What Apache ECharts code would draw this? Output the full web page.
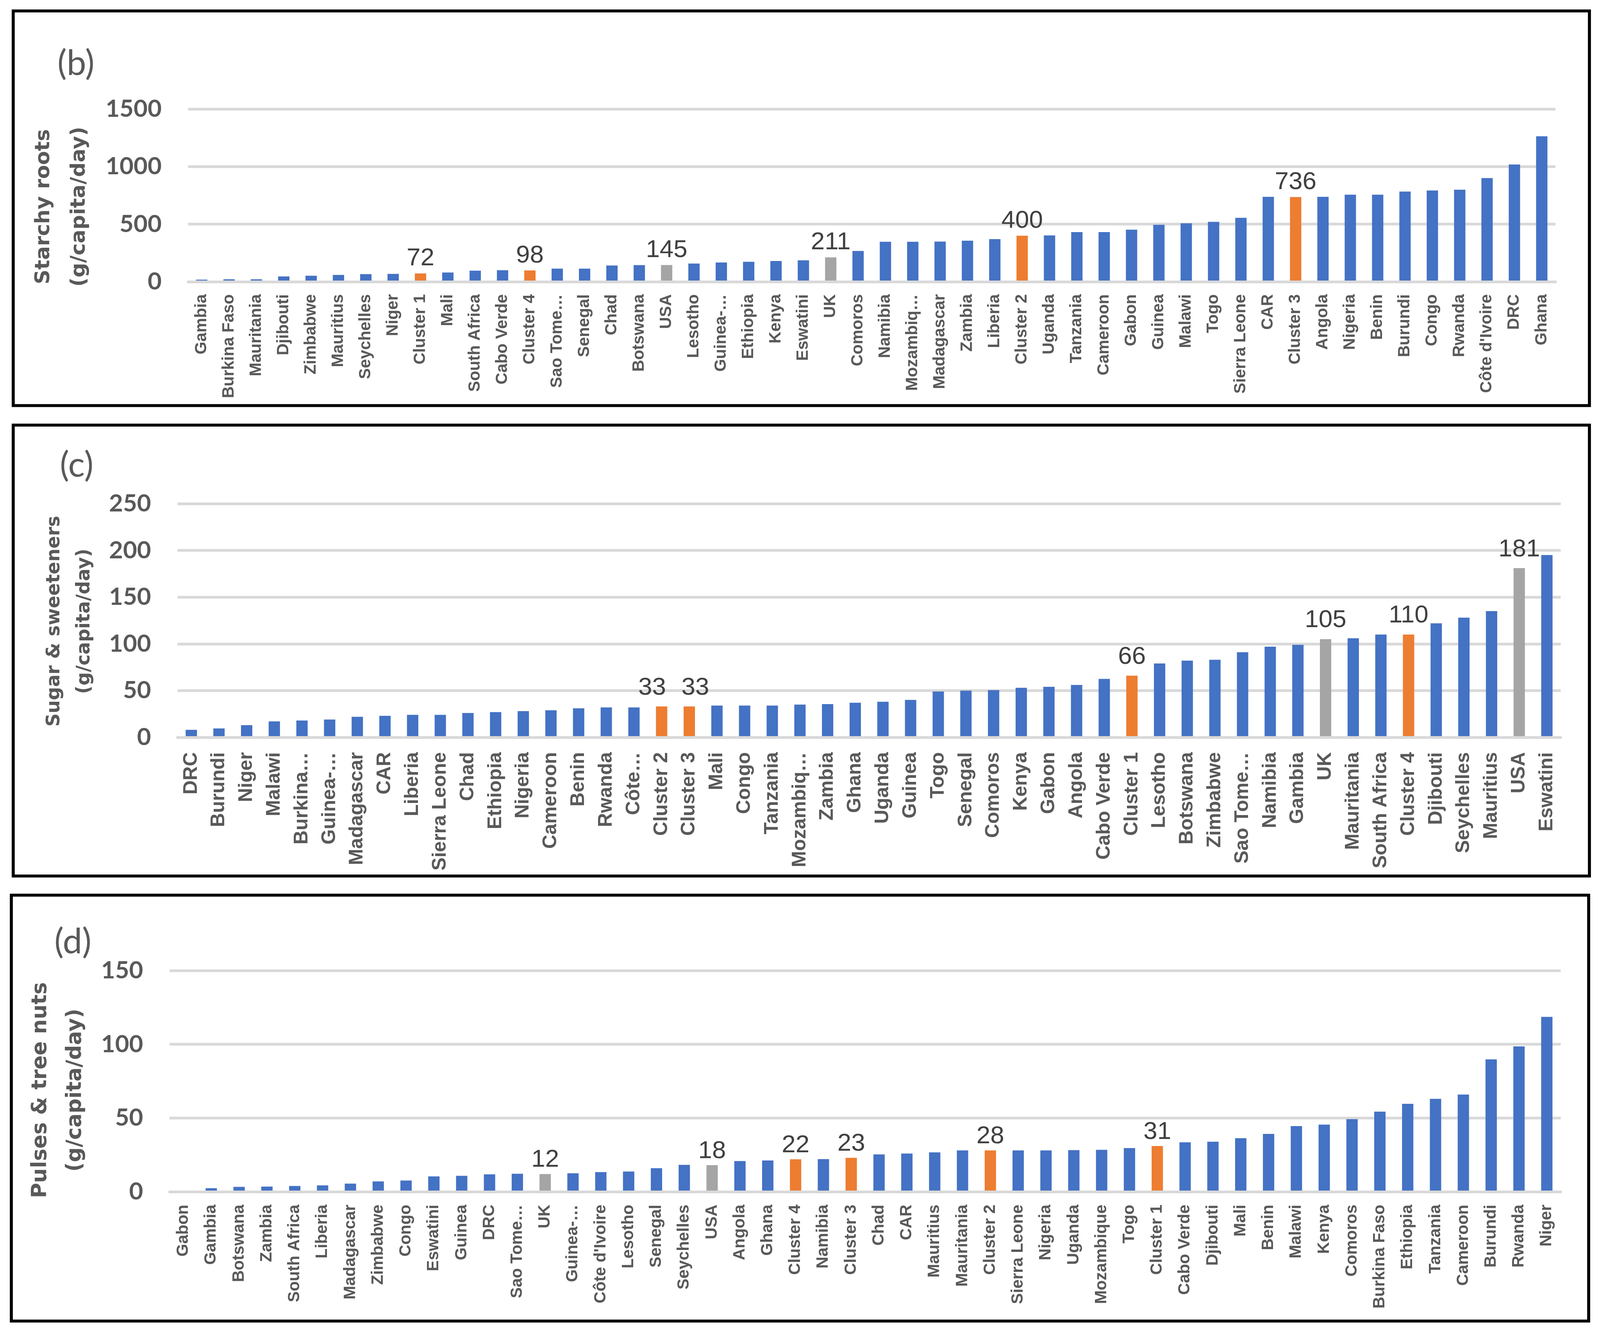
<!DOCTYPE html>
<html>
<head>
<meta charset="utf-8">
<script src="https://cdn.jsdelivr.net/npm/echarts@6/dist/echarts.min.js"></script>
<style>
html,body{margin:0;padding:0;background:#fff;overflow:hidden;}
#c{position:absolute;left:0;top:0;}
</style>
</head>
<body>
<div id="c"></div>
<script>
// ---- Panel (b): Starchy roots ----
const bCats = ["Gambia","Burkina Faso","Mauritania","Djibouti","Zimbabwe","Mauritius","Seychelles","Niger","Cluster 1","Mali","South Africa","Cabo Verde","Cluster 4","Sao Tome…","Senegal","Chad","Botswana","USA","Lesotho","Guinea-…","Ethiopia","Kenya","Eswatini","UK","Comoros","Namibia","Mozambiq…","Madagascar","Zambia","Liberia","Cluster 2","Uganda","Tanzania","Cameroon","Gabon","Guinea","Malawi","Togo","Sierra Leone","CAR","Cluster 3","Angola","Nigeria","Benin","Burundi","Congo","Rwanda","Côte d'Ivoire","DRC","Ghana"];
const bVals = [18,21,21,46,52,59,66,68,72,80,96,100,98,114,114,141,144,145,158,167,173,180,186,211,267,347,347,349,356,370,400,402,431,431,452,495,507,520,555,737,736,737,756,756,783,792,799,900,1018,1263];

// ---- Panel (c): Sugar & sweeteners ----
const cCats = ["DRC","Burundi","Niger","Malawi","Burkina…","Guinea-…","Madagascar","CAR","Liberia","Sierra Leone","Chad","Ethiopia","Nigeria","Cameroon","Benin","Rwanda","Côte…","Cluster 2","Cluster 3","Mali","Congo","Tanzania","Mozambiq…","Zambia","Ghana","Uganda","Guinea","Togo","Senegal","Comoros","Kenya","Gabon","Angola","Cabo Verde","Cluster 1","Lesotho","Botswana","Zimbabwe","Sao Tome…","Namibia","Gambia","UK","Mauritania","South Africa","Cluster 4","Djibouti","Seychelles","Mauritius","USA","Eswatini"];
const cVals = [8,9.5,13,17,18,19,22,23,24,24,26,27,28,29,31,32,32,33,33,34,34,34,35,35.5,37,38,40,49,50,50.5,53,54,56,62.5,66,79,82,83,91,97,99,105,106,110,110,122,128,135,181,195];

// ---- Panel (d): Pulses & tree nuts ----
const dCats = ["Gabon","Gambia","Botswana","Zambia","South Africa","Liberia","Madagascar","Zimbabwe","Congo","Eswatini","Guinea","DRC","Sao Tome…","UK","Guinea-…","Côte d'Ivoire","Lesotho","Senegal","Seychelles","USA","Angola","Ghana","Cluster 4","Namibia","Cluster 3","Chad","CAR","Mauritius","Mauritania","Cluster 2","Sierra Leone","Nigeria","Uganda","Mozambique","Togo","Cluster 1","Cabo Verde","Djibouti","Mali","Benin","Malawi","Kenya","Comoros","Burkina Faso","Ethiopia","Tanzania","Cameroon","Burundi","Rwanda","Niger"];
const dVals = [0,2.4,3.3,3.5,3.9,4.3,5.5,7,7.6,10.4,10.8,11.8,12.2,12,12.5,13.3,13.7,16,18.2,18,20.8,21.2,22,22.1,23,25.3,25.9,26.7,28,28,28,28,28.2,28.4,29.6,31,33.5,33.9,36.3,39.2,44.5,45.5,49.2,54.3,59.6,63,65.9,89.8,98.6,118.6];

const yTicks = {b:{max:1500, interval:500}, c:{max:250, interval:50}, d:{max:150, interval:50}};

const BLUE = '#4472C4', ORANGE = '#ED7D31', GRAY = '#A5A5A5';
const TXT = '#595959';

// Design space is the 4237 x 3409 reference; scale to the actual viewport.
const W0 = 4237, H0 = 3409;
const W = window.innerWidth || W0, H = window.innerHeight || H0;
const sx = W / W0, sy = H / H0, sf = Math.min(sx, sy);
const X = v => v * sx, Y = v => v * sy, F = v => v * sf;

const el = document.getElementById('c');
el.style.width = W + 'px';
el.style.height = H + 'px';

const isLabelled = name => name.indexOf('Cluster') === 0 || name === 'USA' || name === 'UK';

function buildData(cats, vals) {
  return vals.map((v, i) => {
    const name = cats[i];
    const isCluster = name.indexOf('Cluster') === 0;
    const isRef = (name === 'USA' || name === 'UK');
    return {
      value: v,
      itemStyle: { color: isCluster ? ORANGE : (isRef ? GRAY : BLUE) },
      label: { show: isCluster || isRef }
    };
  });
}

const grids = [
  { left: X(498), right: X(118), top: Y(279), height: Y(442) },
  { left: X(470), right: X(104), top: Y(1289), height: Y(598) },
  { left: X(449), right: X(104), top: Y(2484), height: Y(566) }
];

function xAx(idx, cats, fs, margin) {
  return {
    type: 'category', gridIndex: idx, data: cats, z: 5,
    axisLine: { show: true, lineStyle: { color: '#D9D9D9', width: F(7) } },
    axisTick: { show: false },
    axisLabel: {
      interval: 0, rotate: 90, margin: Y(margin),
      fontFamily: 'Liberation Sans', fontWeight: 'bold', fontSize: Y(fs), color: TXT
    }
  };
}
function yAx(idx, t) {
  return {
    type: 'value', gridIndex: idx, min: 0, max: t.max, interval: t.interval,
    axisLine: { show: false }, axisTick: { show: false },
    splitLine: { lineStyle: { color: '#D9D9D9', width: F(7) } },
    axisLabel: { margin: X(70), fontFamily: 'Lato', fontWeight: 'bold', fontSize: F(64), color: TXT,
      formatter: v => String(v) }
  };
}
function ser(idx, cats, vals, dist) {
  return {
    type: 'bar', xAxisIndex: idx, yAxisIndex: idx, barWidth: X(30),
    data: buildData(cats, vals),
    label: {
      show: false, position: 'top', distance: Y(dist),
      fontFamily: 'Liberation Sans', fontSize: F(66), color: '#404040',
      formatter: p => Math.round(p.value)
    },
    // push apart labels of adjacent labelled bars (as in the original)
    labelLayout: p => {
      const i = p.dataIndex;
      if (i + 1 < cats.length && isLabelled(cats[i + 1])) return { dx: -X(25) };
      if (i > 0 && isLabelled(cats[i - 1])) return { dx: X(16) };
      return {};
    }
  };
}

function box(x, y, w, h) {
  return { type: 'rect', shape: { x: X(x), y: Y(y), width: X(w), height: Y(h) },
    style: { fill: 'none', stroke: '#000', lineWidth: F(8) }, z: 10 };
}
function panelTag(t, x, y) {
  return { type: 'text', x: X(x), y: Y(y), z: 10,
    style: { text: t, fontFamily: 'Lato', fontSize: F(92), fill: TXT, textAlign: 'center', textVerticalAlign: 'middle' } };
}
function yTitle(t, x, y, fs, lh) {
  return { type: 'text', x: X(x), y: Y(y), rotation: Math.PI / 2, z: 10,
    style: { text: t, fontFamily: 'DejaVu Sans', fontWeight: 'bold', fontSize: F(fs), lineHeight: F(lh),
      fill: TXT, textAlign: 'center', textVerticalAlign: 'middle' } };
}

const chart = echarts.init(el, null, { renderer: 'canvas', width: W, height: H });
chart.setOption({
  backgroundColor: '#fff',
  animation: false,
  grid: grids,
  xAxis: [xAx(0, bCats, 42, 32), xAx(1, cCats, 50, 38), xAx(2, dCats, 42, 33)],
  yAxis: [yAx(0, yTicks.b), yAx(1, yTicks.c), yAx(2, yTicks.d)],
  series: [ser(0, bCats, bVals, 6), ser(1, cCats, cVals, 16), ser(2, dCats, dVals, 4)],
  graphic: [
    box(35, 28, 4174, 1010),
    box(35, 1088, 4174, 1154),
    box(30, 2291, 4177, 1090),
    panelTag('(b)', 201, 163),
    panelTag('(c)', 203, 1191),
    panelTag('(d)', 193, 2411),
    yTitle('Starchy roots\n(g/capita/day)', 163, 529, 54, 94),
    yTitle('Sugar & sweeteners\n(g/capita/day)', 184, 1590, 49, 80),
    yTitle('Pulses & tree nuts\n(g/capita/day)', 154, 2790, 55, 92)
  ]
});
</script>
</body>
</html>
